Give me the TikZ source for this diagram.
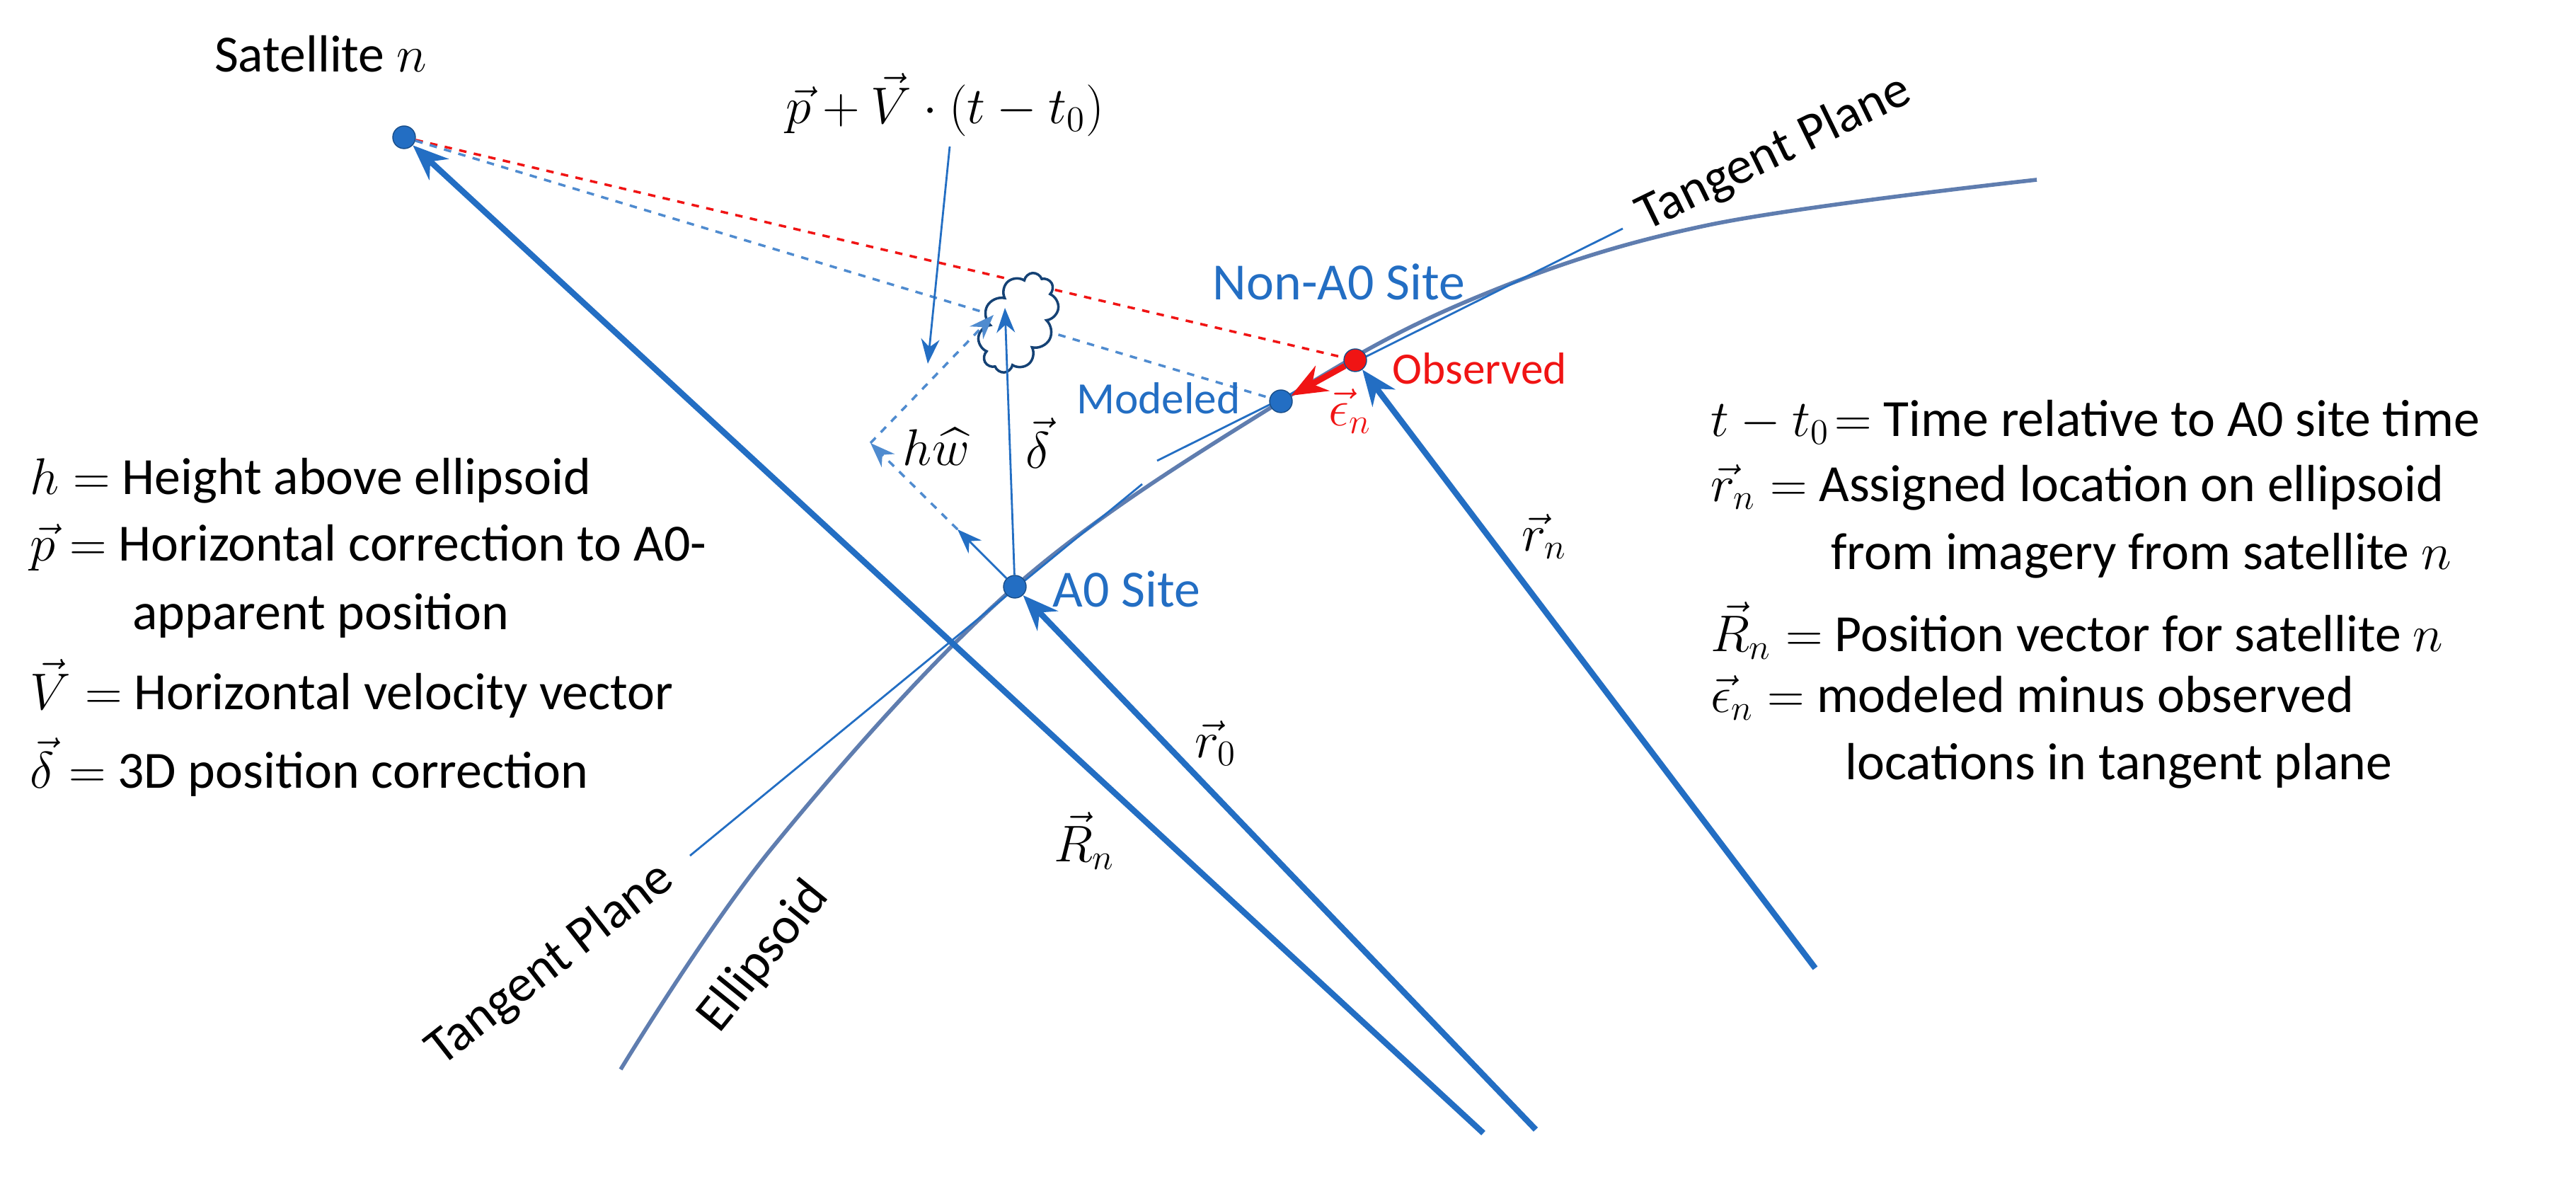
\documentclass[tikz,border=0pt]{standalone}
\usepackage{amsmath}
\usepackage{fontspec}
\setmainfont{Carlito}
\usetikzlibrary{arrows.meta,positioning,shapes.symbols,calc}
\definecolor{geoblue}{RGB}{35,110,195}
\definecolor{ellgray}{RGB}{95,125,175}
\definecolor{obsred}{RGB}{240,20,20}
\tikzset{
    % Site dots
    site/.style={circle,draw=geoblue!70!black,fill=geoblue,inner sep=0pt,minimum size=0.32cm},
    % Position vectors
    posvec/.style={-{Stealth[length=5mm,width=4mm]},line width=2.4pt,geoblue},
    % Thin vectors
    thinvec/.style={-{Stealth[length=3.5mm,width=2.6mm]},line width=0.8pt,geoblue},
    % Dashed helper lines
    dashblue/.style={dashed,line width=1pt,geoblue!80},
    % Labels
    lbl/.style={font=\fontsize{21}{25}\selectfont},
    bluelbl/.style={lbl,text=geoblue}
}
\begin{document}
\begin{tikzpicture}
    \useasboundingbox (0,0) rectangle (36.4,16.63);

    % Ellipsoid and tangent planes
    \draw[ellgray,line width=1.6pt] plot[smooth,tension=0.6] coordinates {(8.77,1.52) (10.91,4.65) (14.34,8.34)
        (18.10,10.96) (20.89,12.44) (24.14,13.45) (28.78,14.09)};
    \draw[geoblue,line width=0.8pt] (9.75,4.54) -- (16.14,9.79);
    \draw[geoblue,line width=0.8pt] (16.35,10.12) -- (22.93,13.40);

    % Points
    \node[site] (sat) at (5.71,14.69) {};
    \node[site] (a0) at (14.34,8.34) {};
    \node[site] (mod) at (18.10,10.96) {};
    \node[site,fill=obsred,draw=geoblue!70!black] (obs) at (19.15,11.54) {};
    \coordinate (cloudc) at (14.39,12.07);

    % Lines of sight
    \draw[dashed,line width=1pt,obsred] (sat) -- (obs);
    \draw[dashblue] (sat) -- (cloudc) -- (mod);
    \node[cloud,cloud puffs=10,draw=geoblue!60!black,fill=white,line width=1pt,
        minimum width=1.5cm,minimum height=1.0cm,rotate=62] (cloud) at (cloudc) {};

    % Position vectors
    \coordinate (Rbase) at (20.96,0.62);
    \coordinate (r0base) at (21.70,0.67);
    \coordinate (rnbase) at (25.65,2.95);
    \draw[posvec] (Rbase) -- (sat);
    \draw[posvec] (r0base) -- (a0);
    \draw[posvec] (rnbase) -- (obs);

    % Corrections
    \coordinate (hwend) at (13.53,9.15);
    \coordinate (hwtip) at (12.30,10.37);
    \coordinate (pvtip) at (14.04,12.18);
    \draw[thinvec] (a0) -- (hwend);
    \draw[dashblue,-{Stealth[length=3.5mm,width=2.6mm]}] (hwend) -- (hwtip);
    \draw[dashblue,-{Stealth[length=3.5mm,width=2.6mm]}] (hwtip) -- (pvtip);
    \draw[thinvec] (a0) -- (14.20,12.28);
    \draw[-{Stealth[length=5mm,width=4mm]},line width=2.4pt,obsred] (obs) -- (mod);

    % Labels in the figure
    \node[lbl] (satlbl) at (4.53,15.87) {Satellite $n$};
    \node[lbl] (pvlbl) at (13.35,15.15) {$\vec{p}+\vec{V}\cdot(t-t_0)$};
    \draw[thinvec] (13.42,14.56) -- (13.11,11.49);
    \node[lbl] at (13.23,10.32) {$h\widehat{w}$};
    \node[lbl] at (14.67,10.37) {$\vec{\delta}$};
    \node[lbl,text=obsred] at (19.08,10.82) {$\vec{\epsilon}_n$};
    \node[bluelbl] at (18.92,12.65) {Non-A0 Site};
    \node[lbl,text=obsred,anchor=west,font=\fontsize{18}{22}\selectfont] at (19.55,11.42) {Observed};
    \node[bluelbl,anchor=east,font=\fontsize{18}{22}\selectfont] at (17.65,11.00) {Modeled};
    \node[bluelbl,anchor=west] at (14.75,8.31) {A0 Site};
    \node[lbl] at (15.32,4.75) {$\vec{R}_n$};
    \node[lbl] at (17.18,6.13) {$\vec{r}_0$};
    \node[lbl] at (21.82,9.05) {$\vec{r}_n$};
    \node[lbl,rotate=26] at (25.07,14.46) {Tangent Plane};
    \node[lbl,rotate=38] at (7.78,3.00) {Tangent Plane};
    \node[lbl,rotate=51] at (10.79,3.11) {Ellipsoid};

    % Left legend
    \node[lbl,anchor=west] at (0.30,9.84) {$h=$ Height above ellipsoid};
    \node[lbl,anchor=west] at (0.30,8.89) {$\vec{p}=$ Horizontal correction to A0-};
    \node[lbl,anchor=west] at (1.75,7.93) {apparent position};
    \node[lbl,anchor=west] at (0.30,6.90) {$\vec{V}=$ Horizontal velocity vector};
    \node[lbl,anchor=west] at (0.30,5.79) {$\vec{\delta}=$ 3D position correction};

    % Right legend
    \node[lbl,anchor=west] at (24.05,10.67) {$t-t_0\!=$ Time relative to A0 site time};
    \node[lbl,anchor=west] at (24.05,9.74) {$\vec{r}_n=$ Assigned location on ellipsoid};
    \node[lbl,anchor=west] at (25.75,8.78) {from imagery from satellite $n$};
    \node[lbl,anchor=west] at (24.05,7.72) {$\vec{R}_n=$ Position vector for satellite $n$};
    \node[lbl,anchor=west] at (24.05,6.77) {$\vec{\epsilon}_n=$ modeled minus observed};
    \node[lbl,anchor=west] at (25.95,5.81) {locations in tangent plane};
\end{tikzpicture}
\end{document}
